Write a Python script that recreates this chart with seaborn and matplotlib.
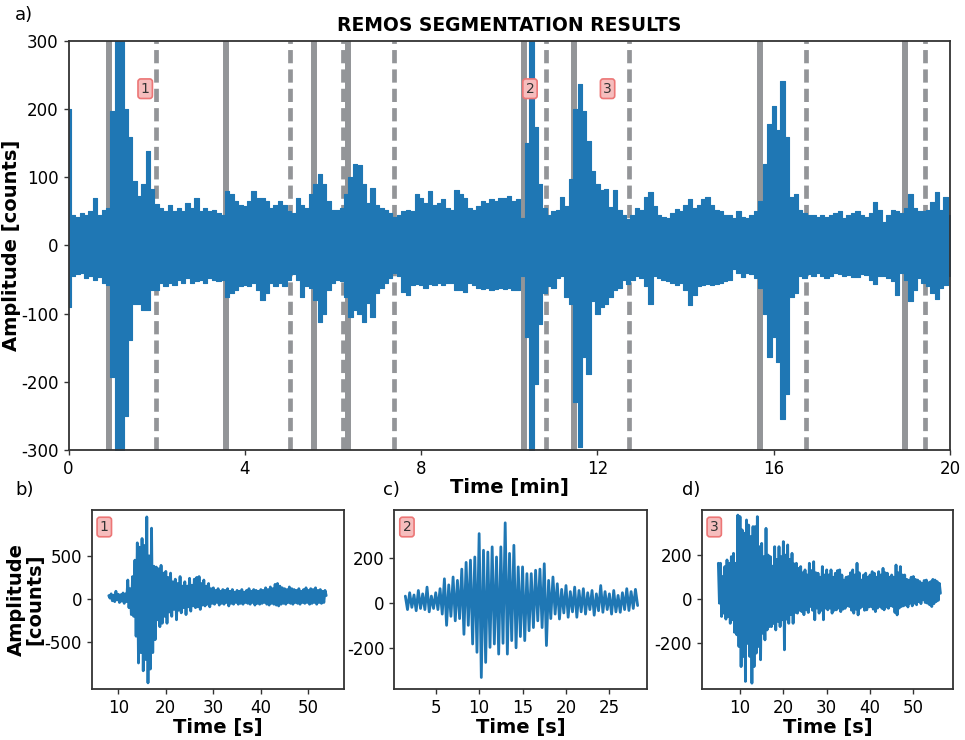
import numpy as np
import matplotlib
matplotlib.use("Agg")
import matplotlib.pyplot as plt
import seaborn as sns

# ---------------- data ----------------
# top panel: envelope of the 20-minute record, sampled every 0.1 min
t_min = np.round(np.arange(0, 20.0001, 0.1), 1)
up_top = [
    200, 45, 42, 48, 45, 50, 70, 45, 52, 55,
    198, 420, 330, 200, 159, 95, 72, 90, 139, 83,
    61, 55, 50, 60, 50, 55, 50, 62, 55, 70,
    50, 55, 50, 52, 48, 45, 80, 75, 65, 60,
    58, 65, 80, 70, 70, 65, 55, 60, 65, 60,
    50, 48, 70, 60, 55, 75, 90, 105, 90, 65,
    52, 52, 55, 75, 100, 120, 118, 90, 62, 85,
    60, 55, 52, 48, 42, 45, 50, 52, 50, 75,
    70, 62, 80, 60, 62, 68, 55, 52, 82, 75,
    70, 55, 52, 58, 66, 62, 68, 65, 70, 70,
    72, 66, 68, 40, 150, 420, 174, 90, 55, 45,
    50, 52, 71, 58, 98, 200, 237, 198, 154, 110,
    90, 81, 83, 56, 81, 52, 45, 39, 45, 55,
    52, 71, 78, 58, 45, 42, 40, 48, 54, 50,
    60, 68, 55, 60, 68, 71, 60, 52, 50, 45,
    45, 40, 51, 42, 40, 45, 50, 66, 120, 178,
    205, 169, 242, 159, 71, 76, 52, 48, 45, 45,
    42, 45, 42, 45, 48, 50, 40, 45, 48, 50,
    45, 42, 48, 64, 52, 35, 45, 52, 50, 48,
    55, 76, 55, 50, 50, 52, 64, 78, 52, 71,
    45,
]
low_top = [
    -90, -45, -42, -40, -48, -45, -50, -46, -55, -58,
    -193, -330, -310, -250, -139, -86, -86, -95, -95, -66,
    -66, -55, -60, -55, -58, -50, -55, -48, -55, -52,
    -50, -55, -48, -50, -52, -50, -75, -70, -65, -60,
    -58, -60, -55, -65, -80, -70, -55, -60, -55, -60,
    -50, -42, -50, -75, -60, -62, -80, -112, -100, -65,
    -55, -50, -52, -75, -105, -95, -100, -112, -85, -105,
    -70, -62, -55, -48, -40, -45, -68, -72, -58, -56,
    -58, -62, -56, -58, -55, -58, -55, -55, -66, -65,
    -68, -55, -58, -62, -64, -62, -66, -64, -62, -64,
    -62, -66, -66, -45, -134, -330, -203, -115, -70, -59,
    -62, -48, -45, -76, -86, -230, -296, -164, -188, -81,
    -100, -90, -86, -76, -66, -62, -50, -56, -50, -45,
    -48, -60, -86, -45, -48, -50, -52, -55, -58, -55,
    -65, -88, -73, -60, -58, -56, -58, -57, -55, -52,
    -50, -34, -40, -46, -40, -42, -48, -62, -100, -164,
    -134, -171, -254, -218, -76, -70, -45, -48, -42, -45,
    -40, -45, -48, -45, -40, -42, -45, -44, -46, -46,
    -42, -44, -50, -56, -45, -45, -48, -52, -73, -40,
    -50, -81, -65, -48, -55, -60, -70, -78, -62, -58,
    -45,
]
seg_start = [0.92, 3.57, 5.57, 6.33, 10.34, 11.46, 15.68, 18.97]
seg_end = [1.99, 5.02, 6.23, 7.39, 10.83, 12.71, 16.74, 19.44]
event_ids = ["1", "2", "3"]
event_t = [1.74, 10.47, 12.23]
event_amp = [230, 230, 230]

# panel b (event 1), 0.5 s steps
b_t = np.arange(8.0, 53.5001, 0.5)
b_up = [
    40, 60, 45, 90, 55, 50, 70, 60, 220, 120,
    260, 450, 650, 600, 700, 620, 950, 500, 820, 380,
    370, 350, 390, 300, 320, 250, 300, 200, 230, 180,
    260, 150, 200, 150, 240, 160, 230, 250, 260, 180,
    220, 150, 180, 120, 130, 100, 120, 90, 110, 100,
    120, 90, 110, 80, 100, 90, 110, 80, 100, 120,
    90, 110, 100, 90, 110, 100, 130, 110, 140, 120,
    170, 180, 150, 130, 120, 110, 140, 120, 110, 100,
    120, 90, 110, 130, 100, 120, 110, 130, 100, 110,
    90, 100,
]
b_low = [
    10, -20, -30, -10, -40, -25, -50, -30, -100, -180,
    -200, -430, -740, -620, -830, -700, -970, -810, -620, -470,
    -240, -320, -280, -200, -280, -150, -200, -120, -240, -130,
    -160, -100, -180, -90, -140, -80, -100, -90, -120, -70,
    -80, -60, -90, -50, -60, -40, -70, -50, -60, -40,
    -80, -50, -60, -40, -60, -50, -60, -40, -50, -60,
    -40, -70, -50, -60, -50, -40, -60, -70, -50, -60,
    -70, -80, -60, -50, -60, -40, -50, -60, -40, -50,
    -60, -40, -50, -40, -60, -50, -40, -60, -40, -50,
    -40, 40,
]

# panel c (event 2)
c_t = np.arange(1.5, 28.0001, 0.5)
c_up = [
    30, 45, 35, 55, 40, 70, 30, 45, 63, 107,
    80, 115, 100, 150, 180, 190, 204, 308, 234, 226,
    249, 204, 249, 356, 220, 256, 160, 160, 130, 130,
    145, 150, 174, 100, 115, 85, 60, 77, 50, 70,
    55, 63, 45, 55, 40, 77, 50, 40, 55, 33,
    45, 63, 50, 60,
]
c_low = [
    -30, -20, -35, -25, -30, -40, -25, -30, -50, -100,
    -60, -80, -70, -140, -100, -183, -220, -332, -265, -198,
    -183, -228, -180, -228, -168, -200, -150, -168, -124, -110,
    -80, -110, -190, -70, -50, -72, -45, -64, -40, -64,
    -40, -50, -30, -55, -35, -42, -30, -50, -40, -42,
    -30, -34, -25, -12,
]

# panel d (event 3)
d_t = np.arange(5.0, 56.0001, 0.5)
d_up = [
    163, 163, 103, 148, 178, 163, 193, 208, 163, 381,
    374, 314, 299, 359, 336, 284, 329, 329, 374, 238,
    253, 193, 321, 200, 193, 150, 238, 180, 238, 193,
    261, 200, 246, 180, 208, 160, 163, 140, 148, 120,
    133, 110, 163, 130, 170, 120, 118, 100, 148, 110,
    133, 110, 133, 100, 118, 130, 133, 110, 87, 100,
    103, 120, 133, 110, 163, 120, 87, 110, 118, 100,
    110, 125, 118, 100, 125, 110, 140, 120, 118, 100,
    110, 100, 155, 120, 148, 110, 110, 90, 87, 100,
    103, 90, 87, 80, 72, 85, 87, 75, 80, 90,
    87, 80, 72,
]
d_low = [
    -18, -78, -63, -90, -78, -109, -93, -150, -161, -214,
    -305, -259, -372, -200, -259, -380, -305, -244, -214, -274,
    -154, -184, -139, -124, -124, -110, -139, -100, -124, -93,
    -229, -90, -109, -70, -109, -60, -63, -50, -56, -70,
    -48, -60, -33, -50, -93, -40, -63, -50, -93, -40,
    -48, -40, -63, -50, -48, -40, -56, -45, -41, -30,
    -33, -50, -63, -45, -71, -40, -33, -50, -48, -35,
    -33, -45, -56, -40, -33, -41, -48, -35, -41, -30,
    -33, -60, -71, -40, -33, -30, -26, -35, -18, -30,
    -18, -25, -11, -20, -3, -15, -18, -25, -33, -20,
    -11, -5, 27,
]

# ---------------- style ----------------
sns.set_theme(style="ticks")
plt.rcParams["font.family"] = ["DejaVu Sans"]
plt.rcParams["axes.unicode_minus"] = False
plt.rcParams["text.color"] = "black"
plt.rcParams["axes.labelcolor"] = "black"
plt.rcParams["xtick.color"] = "black"
plt.rcParams["ytick.color"] = "black"

BLUE = "#1f77b4"
GRAY = "#939598"
SPINE = "#333333"
BOX = dict(boxstyle="round,pad=0.2", fc="#f6bdbd", ec="#ec7676", lw=1.2)


def style_axes(ax):
    for sp in ax.spines.values():
        sp.set_color(SPINE)
        sp.set_linewidth(1.3)
    ax.tick_params(labelsize=12, length=3.5, width=1, color=SPINE, labelcolor="black")


def zigzag(t, up, low):
    t = np.asarray(t, float)
    dt = t[1] - t[0]
    x = np.column_stack([t, t + dt / 2]).ravel()
    y = np.column_stack([up, low]).ravel()
    return x, y


fig = plt.figure(figsize=(9.65, 7.4), dpi=100)

# ---------------- top panel ----------------
ax = fig.add_axes([0.071, 0.3919, 0.9135, 0.5527])
for s in seg_start:
    ax.axvline(s, color=GRAY, lw=4.3, zorder=1)
for e in seg_end:
    ax.axvline(e, color=GRAY, lw=3.4, ls=(0, (2.8, 1.3)), zorder=1)
ax.fill_between(t_min, low_top, up_top, step="mid", color=BLUE, lw=0.8,
                edgecolor=BLUE, zorder=2)
for lab, tx, ty in zip(event_ids, event_t, event_amp):
    ax.text(tx, ty, lab, fontsize=10, ha="center", va="center", color="#333333",
            bbox=BOX, zorder=4)
ax.set_xlim(0, 20)
ax.set_ylim(-300, 300)
ax.set_xticks([0, 4, 8, 12, 16, 20])
ax.set_yticks([-300, -200, -100, 0, 100, 200, 300])
style_axes(ax)
ax.set_xlabel("Time [min]", fontsize=14, fontweight="bold", labelpad=0)
ax.set_ylabel("Amplitude [counts]", fontsize=14, fontweight="bold", labelpad=0)
ax.set_title("REMOS SEGMENTATION RESULTS", fontsize=13.5, fontweight="bold", pad=7,
             color="black")

# ---------------- bottom panels ----------------
panels = [
    ([0.0950, 0.069, 0.2615, 0.2418], b_t, b_up, b_low, "1", (4.4, 57.5), (-1040, 1030),
     [10, 20, 30, 40, 50], [-500, 0, 500]),
    ([0.4086, 0.069, 0.2616, 0.2418], c_t, c_up, c_low, "2", (0.23, 29.3), (-383, 413),
     [5, 10, 15, 20, 25], [-200, 0, 200]),
    ([0.7271, 0.069, 0.2607, 0.2418], d_t, d_up, d_low, "3", (1.15, 59.2), (-406, 404),
     [10, 20, 30, 40, 50], [-200, 0, 200]),
]
for i, (rect, tt, up, low, lab, xl, yl, xt, yt) in enumerate(panels):
    a = fig.add_axes(rect)
    x, y = zigzag(tt, up, low)
    sns.lineplot(x=x, y=y, ax=a, color=BLUE, lw=2, sort=False, estimator=None)
    a.set_xlim(*xl)
    a.set_ylim(*yl)
    a.set_xticks(xt)
    a.set_yticks(yt)
    style_axes(a)
    a.text(0.05, 0.905, lab, transform=a.transAxes, fontsize=10, ha="center",
           va="center", color="#333333", bbox=BOX, zorder=4)
    a.set_xlabel("Time [s]", fontsize=14, fontweight="bold", labelpad=1)
    if i == 0:
        a.set_ylabel("Amplitude\n[counts]", fontsize=14, fontweight="bold", labelpad=0,
                     linespacing=1.0)
    else:
        a.set_ylabel("")

fig.text(0.0155, 0.98, "a)", fontsize=13, va="center", ha="left")
fig.text(0.0155, 0.338, "b)", fontsize=13, va="center", ha="left")
fig.text(0.397, 0.338, "c)", fontsize=13, va="center", ha="left")
fig.text(0.7067, 0.338, "d)", fontsize=13, va="center", ha="left")

fig.savefig("out.png", dpi=100)
